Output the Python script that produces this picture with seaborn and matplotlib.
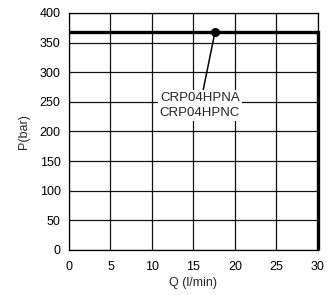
import matplotlib
matplotlib.use("Agg")
import matplotlib.pyplot as plt
import seaborn as sns
import pandas as pd

# pressure limit curve
q = [0, 30, 30]
p = [368, 368, 0]
marker_q = 17.6
marker_p = 368
label = "CRP04HPNA\nCRP04HPNC"
xticks = [0, 5, 10, 15, 20, 25, 30]
yticks = [0, 50, 100, 150, 200, 250, 300, 350, 400]

sns.set_style("white")
plt.rcParams['font.family'] = ['Liberation Sans', 'DejaVu Sans']

fig = plt.figure(figsize=(3.27, 2.95), dpi=100)
ax = fig.add_axes([0.211, 0.153, 0.761, 0.803])

df = pd.DataFrame({"Q": q, "P": p})
sns.lineplot(data=df, x="Q", y="P", sort=False, estimator=None, color="black",
             linewidth=2.4, ax=ax, zorder=3, clip_on=False,
             solid_capstyle="butt", solid_joinstyle="miter")
ax.plot([marker_q], [marker_p], "o", color="black", markersize=5.5, zorder=4)

ax.set_xlim(0, 30)
ax.set_ylim(0, 400)
ax.set_xticks(xticks)
ax.set_yticks(yticks)
ax.grid(True, color="#111111", linewidth=0.9)
for s in ax.spines.values():
    s.set_color("black")
    s.set_linewidth(0.9)
ax.tick_params(length=0, labelsize=9, colors="black")
ax.tick_params(axis="x", pad=8)
ax.tick_params(axis="y", pad=6)
ax.set_xlabel("Q (l/min)", fontsize=9, labelpad=3)
ax.set_ylabel("P(bar)", fontsize=9, labelpad=7)

ax.annotate(label, xy=(marker_q, marker_p), xytext=(15.8, 244),
            ha="center", va="center", fontsize=9.5, linespacing=1.35,
            bbox=dict(boxstyle="square,pad=0.15", fc="white", ec="none"),
            arrowprops=dict(arrowstyle="-", color="black", lw=1.1, shrinkA=0, shrinkB=0),
            zorder=5)

fig.savefig("out.png", dpi=100)
